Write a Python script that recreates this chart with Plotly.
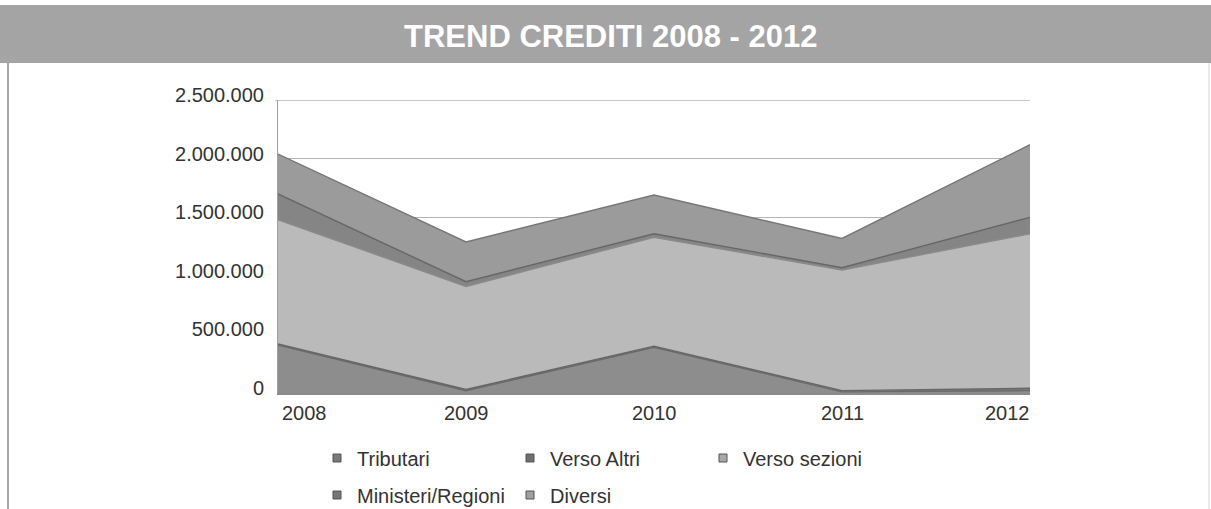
import plotly.graph_objects as go

# --- data -------------------------------------------------------------
anni = [2008, 2009, 2010, 2011, 2012]
tributari = [410000, 20000, 390000, 10000, 20000]
verso_altri = [10000, 10000, 10000, 10000, 20000]
verso_sezioni = [1060000, 880000, 930000, 1030000, 1320000]
ministeri_regioni = [220000, 40000, 30000, 20000, 140000]
diversi = [340000, 340000, 330000, 250000, 620000]
y_ticks = [0, 500000, 1000000, 1500000, 2000000, 2500000]
titolo = "TREND CREDITI 2008 - 2012"

# --- page geometry (pixels) -------------------------------------------
W, H = 1211, 509
L, R, T, B = 278, 181, 100, 116
PW, PH = W - L - R, H - T - B


def px_x(x):
    return (x - L) / PW


def px_y(y):
    return (H - B - y) / PH


FONT = "Liberation Sans, Arial, sans-serif"
TXT = "#333333"
GRID = "#b4b4b4"

serie = [
    ("Tributari", tributari, "#8d8d8d", "#6a6a6a", "#7a7a7a", "legend"),
    ("Verso Altri", verso_altri, "#7c7c7c", "#666666", "#6f6f6f", "legend"),
    ("Verso sezioni", verso_sezioni, "#bababa", "#8a8a8a", "#a8a8a8", "legend"),
    ("Ministeri/Regioni", ministeri_regioni, "#858585", "#666666", "#767676", "legend2"),
    ("Diversi", diversi, "#9b9b9b", "#777777", "#a0a0a0", "legend2"),
]

fig = go.Figure()

# stacked areas
for nome, valori, fill, linea, _, _ in serie:
    fig.add_trace(go.Scatter(
        x=anni, y=valori, name=nome, stackgroup="crediti", mode="lines",
        fillcolor=fill, line=dict(color=linea, width=1.4),
        showlegend=False, hoverinfo="x+y+name",
    ))

# legend entries with small square keys
for nome, _, _, _, key, leg in serie:
    fig.add_trace(go.Scatter(
        x=[None], y=[None], name=nome, mode="markers",
        marker=dict(symbol="square", size=8, color=key,
                    line=dict(color="#555555", width=1)),
        legend=leg, showlegend=True,
    ))

# year labels under the axis (edge labels kept inside the plot width)
ancore = ["left", "center", "center", "center", "right"]
for anno, anc in zip(anni, ancore):
    fig.add_annotation(
        x=anno, xref="x", y=px_y(413), yref="paper", text=str(anno),
        showarrow=False, xanchor=anc, yanchor="middle",
        xshift=2 if anc == "left" else (2 if anc == "right" else 0),
        font=dict(family=FONT, size=20, color=TXT),
    )

# top gridline at the end of the value range
fig.add_shape(type="line", xref="paper", yref="y", layer="below",
              x0=px_x(275), x1=1, y0=y_ticks[-1], y1=y_ticks[-1],
              line=dict(color=GRID, width=1))

# title band
fig.add_shape(type="rect", xref="paper", yref="paper", layer="below",
              x0=px_x(0), x1=px_x(W), y0=px_y(63), y1=px_y(5),
              fillcolor="#a4a4a4", line=dict(width=0))
fig.add_annotation(
    x=px_x(610), y=px_y(36), xref="paper", yref="paper", text=titolo,
    showarrow=False, xanchor="center", yanchor="middle",
    font=dict(family=FONT, size=31, color="#ffffff", weight="bold"),
)
# outer frame lines
fig.add_shape(type="line", xref="paper", yref="paper",
              x0=px_x(8), x1=px_x(8), y0=px_y(63), y1=px_y(H),
              line=dict(color="#8a8a8a", width=1.5))
fig.add_shape(type="line", xref="paper", yref="paper",
              x0=px_x(1209), x1=px_x(1209), y0=px_y(63), y1=px_y(H),
              line=dict(color="#d6d6d6", width=1))

legend_common = dict(
    orientation="h", xanchor="left", yanchor="middle", traceorder="normal",
    bgcolor="rgba(0,0,0,0)", entrywidthmode="pixels", entrywidth=148,
    font=dict(family=FONT, size=20, color=TXT), itemclick=False,
)

fig.update_layout(
    width=W, height=H,
    margin=dict(l=L, r=R, t=T, b=B, autoexpand=False),
    paper_bgcolor="#ffffff", plot_bgcolor="#ffffff",
    separators=",.",
    showlegend=True,
    legend=dict(x=px_x(317), y=px_y(458), **legend_common),
    legend2=dict(x=px_x(317), y=px_y(495), **legend_common),
    xaxis=dict(
        range=[anni[0], anni[-1]], showgrid=False, zeroline=False,
        showticklabels=False, showline=True, linecolor="#8c8c8c",
        linewidth=1.5, automargin=False, fixedrange=True,
    ),
    yaxis=dict(
        range=[0, 2502000], tickvals=y_ticks, tickformat=",.0f",
        showgrid=True, gridcolor=GRID, gridwidth=1, zeroline=False,
        showline=True, linecolor="#a0a0a0", linewidth=1,
        ticks="", ticklabelstandoff=9, ticklabelshift=-5,
        tickfont=dict(family=FONT, size=20, color=TXT),
        automargin=False, fixedrange=True,
    ),
)

fig.write_html("out.html")
